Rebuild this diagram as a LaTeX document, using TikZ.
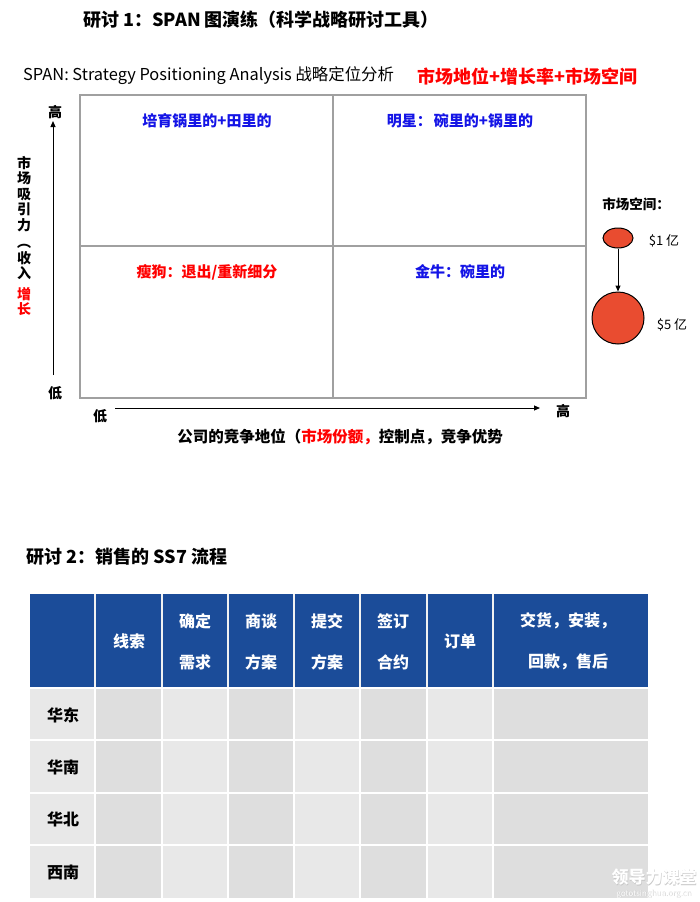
\documentclass[tikz,border=0pt]{standalone}
\usepackage{fontspec}
\setmainfont{Noto Sans CJK SC}
\usetikzlibrary{arrows.meta,shapes.geometric}
\definecolor{hdrblue}{HTML}{1B4C99}
\definecolor{cellA}{HTML}{E8E8E8}
\definecolor{cellB}{HTML}{DEDEDE}
\definecolor{qblue}{HTML}{1414E6}
\definecolor{qred}{HTML}{FF0000}
\definecolor{bubble}{HTML}{E94C30}
\definecolor{frame}{HTML}{A0A0A0}
\tikzset{
  title/.style={font=\fontsize{18}{20}\selectfont\bfseries, anchor=west, inner sep=0},
  qlabel/.style={font=\fontsize{15}{17}\selectfont\bfseries, inner sep=0},
  axlbl/.style={font=\fontsize{14}{16}\selectfont\bfseries, inner sep=0},
  hdr/.style={font=\fontsize{16}{20}\selectfont\bfseries, text=white, align=center, inner sep=0},
  hdrtwo/.style={hdr, font=\fontsize{16}{41}\selectfont\bfseries},
  rowlbl/.style={font=\fontsize{16}{18}\selectfont\bfseries, inner sep=0},
  axarrow/.style={-{Triangle[length=6pt,width=5pt]}, line width=1pt},
}
\begin{document}
\begin{tikzpicture}[x=1pt,y=-1pt]
\useasboundingbox (0,0) rectangle (700,902);
\fill[white] (0,0) rectangle (700,902);

% titles
\node[title] (t1) at (83,20) {研讨 1：SPAN 图演练（科学战略研讨工具）};
\node[anchor=west, inner sep=0, font=\fontsize{16.4}{19}\selectfont] (t2) at (23,76) {SPAN: Strategy Positioning Analysis 战略定位分析};
\node[anchor=west, inner sep=0, font=\fontsize{18}{20}\selectfont\bfseries, text=qred] (t3) at (417,76) {市场地位+增长率+市场空间};

% quadrant frame
\draw[frame, line width=1.2pt] (80,95) rectangle (586,398);
\draw[frame, line width=1.2pt] (333,95) -- (333,398);
\draw[frame, line width=1.2pt] (80,246) -- (586,246);

\node[qlabel, text=qblue] (q1) at (207,121) {培育锅里的+田里的};
\node[qlabel, text=qblue] (q2) at (460,121) {明星：\hspace{2pt}碗里的+锅里的};
\node[qlabel, text=qred] (q3) at (207,272) {瘦狗：退出/重新细分};
\node[qlabel, text=qblue] (q4) at (460,272) {金牛：碗里的};

% y axis
\node[axlbl] (yhi) at (55,112) {高};
\node[axlbl] (ylo) at (55,393) {低};
\coordinate (ya) at (53,375);
\coordinate (yb) at (53,121);
\draw[axarrow] (ya) -- (yb);
\node[axlbl, align=center, font=\fontsize{14}{15.5}\selectfont\bfseries] (ylab) at (24,236)
  {市\\场\\吸\\引\\力\\[2pt]︵\\收\\入\\[5pt]\textcolor{qred}{增}\\\textcolor{qred}{长}};

% x axis
\node[axlbl] (xlo) at (100,416) {低};
\node[axlbl] (xhi) at (563,411) {高};
\coordinate (xa) at (115,408);
\coordinate (xb) at (540,408);
\draw[axarrow] (xa) -- (xb);
\node[axlbl, font=\fontsize{15.5}{18}\selectfont\bfseries] (xlab) at (340,437) {公司的竞争地位（\textcolor{qred}{市场份额，}控制点，竞争优势};

% market space
\node[axlbl, font=\fontsize{13.5}{16}\selectfont\bfseries] (ms) at (636,204) {市场空间：};
\node[draw=black, line width=1pt, fill=bubble, ellipse, minimum width=30pt, minimum height=20pt, inner sep=0] (b1) at (618,238) {};
\node[draw=black, line width=1pt, fill=bubble, circle, minimum size=52pt, inner sep=0] (b5) at (618,318) {};
\draw[-{Triangle[length=6pt,width=5pt]}, line width=1pt] (b1.south) -- (b5.north);
\node[inner sep=0, font=\fontsize{13}{15}\selectfont] (l1) at (664,241) {\$1 亿};
\node[inner sep=0, font=\fontsize{13}{15}\selectfont] (l5) at (672,325) {\$5 亿};

% section 2
\node[title] (s2) at (26,557) {研讨 2：销售的 SS7 流程};

% table
\foreach \xl/\xr/\c in {30/95/cellA,95/162/cellB,162/228/cellA,228/294/cellB,294/360/cellA,360/427/cellB,427/493/cellA,493/648/cellB}{
  \fill[hdrblue] (\xl,594) rectangle (\xr,688);
  \fill[\c] (\xl,688) rectangle (\xr,898);
}
\foreach \x in {95,162,228,294,360,427,493}{
  \draw[cellA!60!white, line width=1.2pt] (\x,594) -- (\x,688);
  \draw[white, line width=1.6pt] (\x,688) -- (\x,898);
}
\draw[white, line width=2pt] (30,688) -- (648,688);
\foreach \y in {740,793,845}{
  \draw[white, line width=1.6pt] (30,\y) -- (648,\y);
}
\node[hdr] (h1) at (129,641) {线索};
\node[hdrtwo] (h2) at (195,641.5) {确定\\需求};
\node[hdrtwo] (h3) at (261,641.5) {商谈\\方案};
\node[hdrtwo] (h4) at (327,641.5) {提交\\方案};
\node[hdrtwo] (h5) at (393,641.5) {签订\\合约};
\node[hdr] (h6) at (460,641) {订单};
\node[hdrtwo] (h7) at (568,641.5) {交货，安装，\\回款，售后};

\node[rowlbl] (r1) at (63,715) {华东};
\node[rowlbl] (r2) at (63,767) {华南};
\node[rowlbl] (r3) at (63,819) {华北};
\node[rowlbl] (r4) at (63,872) {西南};

% watermark
\node[inner sep=0, text=black!22, font=\fontsize{17}{18}\selectfont\bfseries] (wm1s) at (654.6,877.6) {领导力课堂};
\node[inner sep=0, text=white, font=\fontsize{17}{18}\selectfont\bfseries] (wm1) at (654,877) {领导力课堂};
\node[inner sep=0, text=black!22, font=\fontsize{8}{9}\selectfont] (wm2s) at (654.5,894.5) {gototsinghua.org.cn};
\node[inner sep=0, text=white, font=\fontsize{8}{9}\selectfont] (wm2) at (654,894) {gototsinghua.org.cn};
\end{tikzpicture}
\end{document}
